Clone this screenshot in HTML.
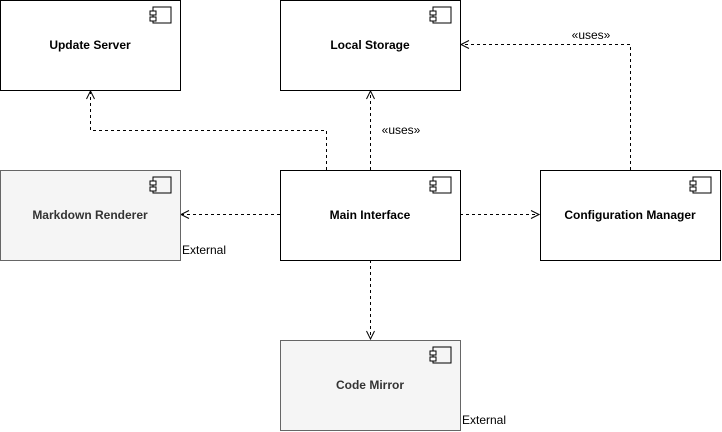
<!DOCTYPE html>
<html><head><meta charset="utf-8"><style>
html,body{margin:0;padding:0;background:#fff;}
svg{display:block;font-family:"Liberation Sans",Helvetica,Arial,sans-serif;}
</style></head><body>
<svg width="722" height="432" viewBox="0 0 722 432" xmlns="http://www.w3.org/2000/svg">
<defs>
<g id="icon">
<rect x="-20" y="7" width="18" height="16" fill="none" stroke="#000"/>
<rect x="-23" y="11" width="6" height="4" fill="#fff" stroke="#000"/>
<rect x="-23" y="17" width="6" height="4" fill="#fff" stroke="#000"/>
</g>
</defs>
<g fill="none" stroke="#000" stroke-dasharray="3,3">
<path d="M326.5 170 V130.5 H90.5 V92"/>
<path d="M370.5 170 V92"/>
<path d="M280 214.5 H182"/>
<path d="M460 214.5 H538"/>
<path d="M370.5 260 V338"/>
<path d="M630.5 170 V44.5 H462"/>
</g>
<g fill="none" stroke="#000">
<path d="M86.5 99 L90.5 91 L94.5 99"/>
<path d="M366.5 99 L370.5 91 L374.5 99"/>
<path d="M189 210.5 L181 214.5 L189 218.5"/>
<path d="M531 210.5 L539 214.5 L531 218.5"/>
<path d="M366.5 331 L370.5 339 L374.5 331"/>
<path d="M469 40.5 L461 44.5 L469 48.5"/>
</g>
<g font-size="12" text-anchor="middle">
<text x="401" y="134">«uses»</text>
<text x="591" y="39">«uses»</text>
</g>
<g font-size="12">
<text x="182" y="254">External</text>
<text x="462" y="424">External</text>
</g>
<g font-size="12" font-weight="bold" text-anchor="middle">
<g><rect x="0.5" y="0.5" width="180" height="90" fill="#fff" stroke="#000"/><use href="#icon" x="173" y="0"/><text x="90" y="49">Update Server</text></g>
<g><rect x="280.5" y="0.5" width="180" height="90" fill="#fff" stroke="#000"/><use href="#icon" x="453" y="0"/><text x="370" y="49">Local Storage</text></g>
<g><rect x="0.5" y="170.5" width="180" height="90" fill="#f5f5f5" stroke="#666"/><use href="#icon" x="173" y="170"/><text x="90" y="219" fill="#333">Markdown Renderer</text></g>
<g><rect x="280.5" y="170.5" width="180" height="90" fill="#fff" stroke="#000"/><use href="#icon" x="453" y="170"/><text x="370" y="219">Main Interface</text></g>
<g><rect x="540.5" y="170.5" width="180" height="90" fill="#fff" stroke="#000"/><use href="#icon" x="713" y="170"/><text x="630" y="219">Configuration Manager</text></g>
<g><rect x="280.5" y="340.5" width="180" height="90" fill="#f5f5f5" stroke="#666"/><use href="#icon" x="453" y="340"/><text x="370" y="389" fill="#333">Code Mirror</text></g>
</g>
</svg>
</body></html>
